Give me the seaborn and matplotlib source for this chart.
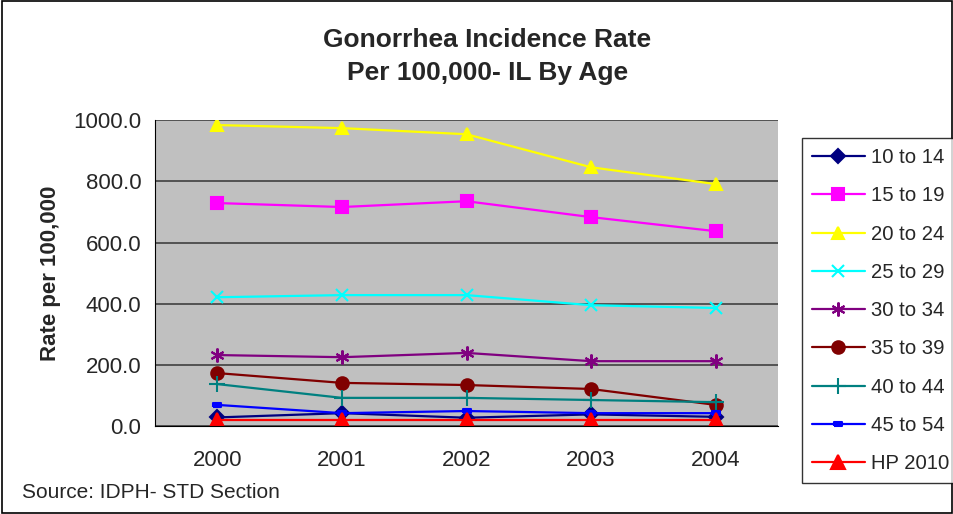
import pandas as pd
import matplotlib.pyplot as plt
from matplotlib.patches import Rectangle
import seaborn as sns

# Valeurs
years = ["2000", "2001", "2002", "2003", "2004"]
age_10_14 = [28, 42, 27, 38, 30]
age_15_19 = [729, 716, 735, 683, 637]
age_20_24 = [984, 974, 954, 846, 791]
age_25_29 = [421, 428, 428, 395, 386]
age_30_34 = [232, 225, 239, 212, 212]
age_35_39 = [173, 141, 134, 121, 69]
age_40_44 = [137, 92, 92, 85, 78]
age_45_54 = [69, 42, 49, 42, 42]
hp_2010 = [19, 19, 19, 19, 19]

series = {
    "10 to 14": age_10_14,
    "15 to 19": age_15_19,
    "20 to 24": age_20_24,
    "25 to 29": age_25_29,
    "30 to 34": age_30_34,
    "35 to 39": age_35_39,
    "40 to 44": age_40_44,
    "45 to 54": age_45_54,
    "HP 2010": hp_2010,
}
colors = ["#000080", "#FF00FF", "#FFFF00", "#00FFFF", "#800080",
          "#800000", "#008080", "#0000FF", "#FF0000"]
dash_marker = [(-1, -0.45), (1, -0.45), (1, 0.45), (-1, 0.45), (-1, -0.45)]
markers = ["D", "s", "^", "x", (6, 2, 0), "o", "+", dash_marker, "^"]
msizes = [7, 8, 9, 9, 10, 9, 11, 6, 10]

rows = []
for name, vals in series.items():
    for i, v in enumerate(vals):
        rows.append({"serie": name, "x": i, "rate": v})
df = pd.DataFrame(rows)

sns.set_style("white")
plt.rcParams['font.family'] = ['Liberation Sans', 'DejaVu Sans']

fig = plt.figure(figsize=(9.54, 5.14), dpi=100)
ax = fig.add_axes([0.1625, 0.1712, 0.653, 0.595])
ax.set_facecolor("#C0C0C0")

for (name, _), c, m, ms in zip(series.items(), colors, markers, msizes):
    sub = df[df["serie"] == name]
    sns.lineplot(data=sub, x="x", y="rate", ax=ax, color=c, marker=m,
                 markersize=ms, markeredgecolor=c, markeredgewidth=1.5,
                 linewidth=1.6, label=name)

ax.set_xlim(-0.5, 4.5)
ax.set_ylim(0, 1000)
ax.set_yticks(range(0, 1001, 200))
ax.set_yticklabels([f"{v:.1f}" for v in range(0, 1001, 200)], fontsize=16)
ax.set_xticks(range(5))
ax.set_xticklabels(years, fontsize=16)
ax.set_xticks([i - 0.5 for i in range(6)], minor=True)
ax.tick_params(axis="x", which="major", length=0, pad=17)
ax.tick_params(axis="x", which="minor", length=6, direction="out", width=1)
ax.tick_params(axis="y", length=6, direction="out", width=1, pad=4)
ax.yaxis.grid(True, color="#404040", linewidth=1.2)
ax.set_axisbelow(True)
for side in ["top", "right"]:
    ax.spines[side].set_visible(False)
ax.spines["left"].set_color("#000000")
ax.spines["bottom"].set_color("#000000")
ax.set_xlabel("")
ax.set_ylabel("Rate per 100,000", fontsize=16, fontweight="bold")
ax.yaxis.set_label_coords(-0.151, 0.5)

handles, labels = ax.get_legend_handles_labels()
ax.get_legend().remove()
leg = fig.legend(handles, labels, loc="upper left",
                 bbox_to_anchor=(802 / 954, 1 - 138 / 514),
                 fontsize=14.6, frameon=True, fancybox=False, edgecolor="black",
                 handlelength=2.6, labelspacing=0.95, borderpad=0.5,
                 handletextpad=0.3, borderaxespad=0)
leg.get_frame().set_linewidth(1.0)

fig.text(0.511, 1 - 40 / 514, "Gonorrhea Incidence Rate", ha="center",
         va="center", fontsize=19, fontweight="bold")
fig.text(0.511, 1 - 73 / 514, "Per 100,000- IL By Age", ha="center",
         va="center", fontsize=19, fontweight="bold")
fig.text(22 / 954, 1 - 493 / 514, "Source: IDPH- STD Section", ha="left",
         va="center", fontsize=15)

fig.patches.append(Rectangle((0.002, 0.002), 0.996, 0.996, transform=fig.transFigure,
                             fill=False, edgecolor="black", linewidth=1.2))

fig.savefig("out.png", dpi=100)
